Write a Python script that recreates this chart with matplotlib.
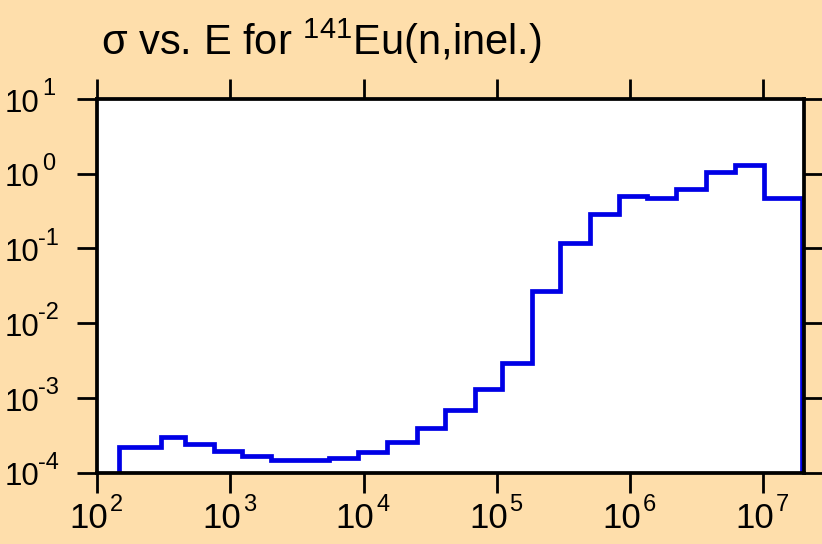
import numpy as np
import matplotlib
matplotlib.use("Agg")
import matplotlib.pyplot as plt
from matplotlib.ticker import FixedLocator, NullLocator

# bin edges (eV) and cross sections (b)
edges = [146, 304, 455, 750, 1230, 2030, 3320, 5500, 9100, 1.5e4, 2.5e4,
         4.1e4, 6.8e4, 1.1e5, 1.84e5, 3.0e5, 5.0e5, 8.2e5, 1.35e6, 2.2e6,
         3.7e6, 6.1e6, 1.01e7, 1.94e7]
sigma = [2.2e-4, 3.0e-4, 2.46e-4, 1.96e-4, 1.68e-4, 1.50e-4, 1.47e-4,
         1.58e-4, 1.9e-4, 2.58e-4, 4.0e-4, 6.9e-4, 1.31e-3, 2.9e-3, 2.7e-2,
         0.117, 0.286, 0.508, 0.478, 0.63, 1.05, 1.29, 0.478]

x_exp = [2, 3, 4, 5, 6, 7]
y_exp = [-4, -3, -2, -1, 0, 1]
title = r"σ vs. E for $\mathregular{^{141}}$Eu(n,inel.)"

bg = "#fedeab"

plt.rcParams["font.family"] = ["Liberation Sans", "DejaVu Sans"]
plt.rcParams["mathtext.fontset"] = "custom"
plt.rcParams["mathtext.rm"] = "Liberation Sans"
plt.rcParams["mathtext.it"] = "Liberation Sans:italic"
plt.rcParams["mathtext.bf"] = "Liberation Sans:bold"

px = 72 / 100  # points per pixel

fig = plt.figure(figsize=(8.22, 5.44), dpi=100, facecolor=bg)
ax = fig.add_axes([0.118, 0.131, 0.8595, 0.687])

ax.stairs(sigma, edges, baseline=1e-6, color="#0000e6", linewidth=3.4)

ax.set_xscale("log")
ax.set_yscale("log")
ax.set_xlim(1e2, 2.0e7)
ax.set_ylim(1e-4, 1e1)

ax.xaxis.set_major_locator(FixedLocator([10.0 ** e for e in x_exp]))
ax.yaxis.set_major_locator(FixedLocator([10.0 ** e for e in y_exp]))
ax.xaxis.set_minor_locator(NullLocator())
ax.yaxis.set_minor_locator(NullLocator())

ax.tick_params(which="major", direction="out", length=14.5, width=2.0,
               top=True, right=True, labelbottom=False, labelleft=False)

for sp in ax.spines.values():
    sp.set_linewidth(2.7)
    sp.set_color("black")

# tick labels: "10" plus a large superscript exponent
for e in x_exp:
    ax.annotate("10", xy=(10.0 ** e, 0), xycoords=("data", "axes fraction"),
                xytext=(11 * px, -55.6 * px), textcoords="offset points",
                ha="right", va="baseline", fontsize=25, annotation_clip=False)
    ax.annotate(str(e), xy=(10.0 ** e, 0), xycoords=("data", "axes fraction"),
                xytext=(12.5 * px, -38 * px), textcoords="offset points",
                ha="left", va="baseline", fontsize=17, annotation_clip=False)

for e in y_exp:
    ax.annotate("10", xy=(0, 10.0 ** e), xycoords=("figure fraction", "data"),
                xytext=(4.8 * px, -12.6 * px), textcoords="offset points",
                ha="left", va="baseline", fontsize=22.5, annotation_clip=False)
    sx = 38.3 if e < 0 else 42.5
    ax.annotate(str(e), xy=(0, 10.0 ** e), xycoords=("figure fraction", "data"),
                xytext=(sx * px, 3.8 * px), textcoords="offset points",
                ha="left", va="baseline", fontsize=17, annotation_clip=False)

fig.text(101 / 822, 1 - 55 / 544, title, fontsize=30, ha="left",
         va="baseline")

fig.savefig("out.png", dpi=100, facecolor=bg)
